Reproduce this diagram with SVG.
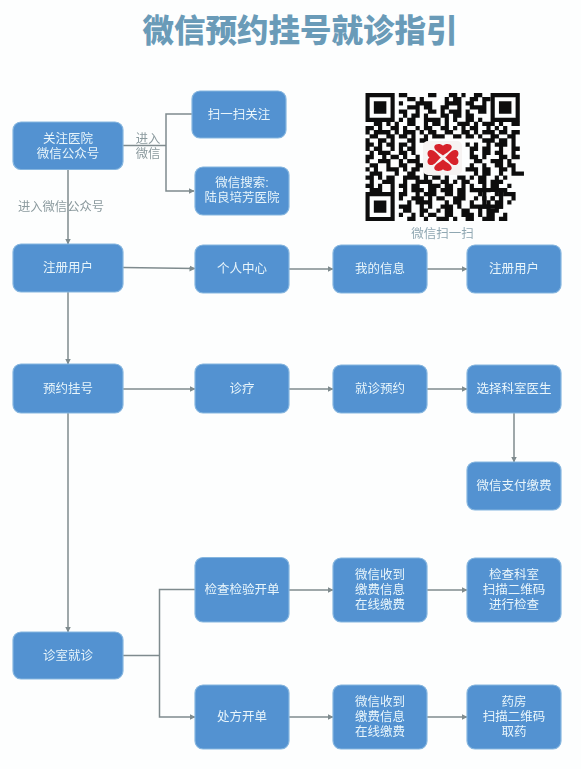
<svg xmlns="http://www.w3.org/2000/svg" width="581" height="769" viewBox="0 0 581 769">
<style>
text{font-family:"Liberation Sans","Noto Sans CJK SC",sans-serif}
.box{fill:#5392d1;stroke:#86b6df;stroke-width:1.2}
.t{fill:#e8f5fb;font-size:12.5px;text-anchor:middle}
.lab{fill:#8b9a9e;font-size:12.3px;text-anchor:middle}
.c{fill:none;stroke:#7f8b8e;stroke-width:1.5}
.a{marker-end:url(#arr)}
.q{fill:none;stroke:#111;stroke-width:1.04}
</style>
<defs>
<marker id="arr" markerUnits="userSpaceOnUse" markerWidth="7" markerHeight="7" refX="5.5" refY="3" orient="auto"><path d="M0 0L6 3L0 6z" fill="#7f8b8e"/></marker>
<filter id="soft" x="-5%" y="-5%" width="110%" height="110%"><feGaussianBlur stdDeviation="0.45"/></filter>
<path id="finder" fill="#111" fill-rule="evenodd" d="M0 0h7v7h-7zM1 1v5h5v-5zM2 2h3v3h-3z"/>
<path id="petal" fill="#d7232c" d="M0 -2C-3 -5 -9 -8 -8 -12C-7 -15 -2 -15 0 -12.500C2 -15 7 -15 8 -12C9 -8 3 -5 0 -2z"/>
</defs>
<rect width="581" height="769" fill="#fdfefe"/>
<text id="title" x="300" y="42" font-size="31.500" font-weight="900" fill="#6a9bb8" text-anchor="middle">微信预约挂号就诊指引</text>

<g id="qr" filter="url(#soft)">
<g transform="translate(365.500,93) scale(4.17,4.13)">
<use href="#finder"/><use href="#finder" x="30"/><use href="#finder" y="24"/>
<path class="q" d="M8 .5h2m5 0h2m3 0h2m1 0h1m2 0h2
M10 1.500h2m1 0h1m5 0h1m1 0h2m2 0h2m1 0h2
M8 2.500h1m3 0h4m3 0h4m1 0h2m2 0h1
M10 3.500h3m1 0h2m2 0h2m2 0h1m2 0h4
M8 4.500h2m2 0h1m2 0h2m1 0h1m1 0h3m1 0h1m2 0h2
M9 5.500h1m1 0h2m1 0h1m3 0h2m1 0h2m1 0h2
M8 6.500h1m1 0h2m2 0h4m1 0h1m1 0h1m2 0h2m1 0h1
M2 7.500h2m1 0h1m1 0h1m2 0h2m2 0h1m1 0h2m1 0h1m2 0h3m1 0h1m1 0h3m1 0h1m2 0h2
M0 8.500h2m1 0h1m2 0h2m1 0h1m2 0h1m1 0h2m2 0h2m1 0h1m1 0h1m1 0h2m2 0h1m1 0h1m1 0h1
M0 9.500h1m1 0h4m1 0h1m1 0h3m1 0h1m1 0h2m2 0h2m2 0h2m1 0h1m1 0h3m1 0h2m1 0h2
M1 10.500h2m2 0h2m1 0h2m1 0h1m2 0h1m1 0h3m2 0h2m1 0h2m1 0h1m2 0h2m2 0h2
M0 11.500h1m2 0h2m1 0h1m3 0h2m1 0h2m13 0h3m1 0h2m1 0h1
M0 12.500h2m1 0h1m1 0h2m1 0h2m1 0h1m12 0h1m1 0h1m2 0h1m1 0h3m1 0h1
M0 13.500h1m1 0h2m2 0h1m1 0h1m1 0h2m13 0h2m1 0h2m2 0h1m2 0h2
M1 14.500h1m1 0h3m2 0h2m1 0h1m13 0h1m2 0h2m1 0h2m2 0h1
M0 15.500h2m2 0h1m1 0h2m1 0h1m2 0h1m12 0h2m1 0h1m3 0h2m1 0h2
M0 16.500h1m2 0h3m2 0h1m1 0h3m13 0h2m2 0h3m1 0h1
M1 17.500h2m2 0h1m2 0h2m2 0h2m11 0h1m2 0h1m2 0h2m1 0h2
M0 18.500h1m1 0h1m2 0h3m1 0h1m1 0h2m11 0h3m1 0h2m2 0h2m1 0h1
M1 19.500h3m3 0h1m2 0h2m2 0h2m10 0h1m1 0h2m2 0h1m2 0h3
M0 20.500h2m1 0h1m1 0h2m2 0h4m1 0h1m1 0h2m1 0h1m2 0h2m1 0h1m1 0h2m2 0h1m1 0h1
M1 21.500h1m2 0h3m2 0h1m2 0h4m2 0h2m1 0h1m1 0h2m2 0h2m1 0h3
M0 22.500h2m1 0h1m2 0h1m1 0h2m1 0h2m2 0h3m1 0h2m2 0h1m1 0h1m2 0h1m1 0h2m2 0h1
M1 23.500h3m2 0h1m2 0h1m1 0h3m1 0h2m1 0h3m1 0h2m1 0h5m2 0h2
M8 24.500h2m2 0h1m1 0h3m2 0h2m1 0h2m3 0h1m3 0h1m1 0h3
M8 25.500h1m2 0h3m1 0h1m1 0h2m2 0h3m2 0h1m1 0h1m1 0h1m1 0h1m2 0h1
M10 26.500h1m1 0h4m3 0h1m1 0h2m2 0h1m3 0h1m1 0h2m1 0h1
M8 27.500h3m2 0h1m1 0h1m2 0h3m1 0h1m2 0h5m1 0h2
M9 28.500h2m2 0h2m2 0h1m1 0h2m2 0h2m2 0h1m1 0h3
M8 29.500h1m2 0h1m1 0h1m1 0h2m2 0h2m2 0h3m1 0h1m1 0h2m2 0h1
M10 30.500h2m2 0h1m2 0h3m1 0h1m2 0h2m2 0h3m1 0h2"/>
<path fill="#111" fill-rule="evenodd" d="M28 23h5v5h-5zM29 24v3h3v-3zM30 25h1v1h-1z"/>
</g>
<rect x="423" y="141" width="39" height="34" rx="5" fill="#f6f3f2"/>
<g transform="translate(443,157.500) scale(1.08,.94)">
<use href="#petal"/><use href="#petal" transform="rotate(90)"/><use href="#petal" transform="rotate(180)"/><use href="#petal" transform="rotate(270)"/>
</g>
</g>
<text id="qr-label" x="442.500" y="238" font-size="12.500" fill="#8fa7b2" text-anchor="middle">微信扫一扫</text>

<g id="connectors">
<path class="c" d="M123 145.500H166"/>
<path class="c a" d="M192 114H166V191H194"/>
<path class="c a" d="M68 169V244"/>
<path class="c a" d="M68 292V364"/>
<path class="c a" d="M68 413V632"/>
<path class="c a" d="M123 267.500L195 268.500"/>
<path class="c a" d="M289 269H333"/>
<path class="c a" d="M427 269H467"/>
<path class="c a" d="M123 389H195"/>
<path class="c a" d="M289 389H333"/>
<path class="c a" d="M427 389H467"/>
<path class="c a" d="M514 413V462"/>
<path class="c" d="M123 655.500H159.500"/>
<path class="c a" d="M195 589.500H159.500V717H195"/>
<path class="c a" d="M289 590H333"/>
<path class="c a" d="M427 590H467"/>
<path class="c a" d="M289 717H333"/>
<path class="c a" d="M427 717H467"/>
</g>
<text id="l1" class="lab" x="148" y="142.500"><tspan x="148">进入</tspan><tspan x="148" dy="15.500">微信</tspan></text>
<text id="l3" class="lab" x="61" y="211">进入微信公众号</text>

<g id="n1"><rect class="box" x="13" y="122" width="110" height="47.500" rx="8"/><text class="t" x="68" y="142.500"><tspan x="68">关注医院</tspan><tspan x="68" dy="15">微信公众号</tspan></text></g>
<g id="n2"><rect class="box" x="192" y="91" width="94" height="47" rx="8"/><text class="t" x="239" y="119">扫一扫关注</text></g>
<g id="n3"><rect class="box" x="195" y="167" width="94" height="48" rx="8"/><text class="t" x="242" y="187"><tspan x="242">微信搜索:</tspan><tspan x="242" dy="15">陆良培芳医院</tspan></text></g>
<g id="n4"><rect class="box" x="13" y="244" width="110" height="48" rx="8"/><text class="t" x="68" y="272">注册用户</text></g>
<g id="n5"><rect class="box" x="195" y="245" width="94" height="48" rx="8"/><text class="t" x="242" y="273">个人中心</text></g>
<g id="n6"><rect class="box" x="333" y="245" width="94" height="48" rx="8"/><text class="t" x="380" y="273">我的信息</text></g>
<g id="n7"><rect class="box" x="467" y="245" width="94" height="48" rx="8"/><text class="t" x="514" y="273">注册用户</text></g>
<g id="n8"><rect class="box" x="13" y="364" width="110" height="49" rx="8"/><text class="t" x="68" y="393">预约挂号</text></g>
<g id="n9"><rect class="box" x="195" y="364" width="94" height="49" rx="8"/><text class="t" x="242" y="393">诊疗</text></g>
<g id="n10"><rect class="box" x="333" y="365" width="94" height="48" rx="8"/><text class="t" x="380" y="393">就诊预约</text></g>
<g id="n11"><rect class="box" x="467" y="365" width="94" height="48" rx="8"/><text class="t" x="514" y="393">选择科室医生</text></g>
<g id="n12"><rect class="box" x="467" y="462" width="94" height="48" rx="8"/><text class="t" x="514" y="490">微信支付缴费</text></g>
<g id="n13"><rect class="box" x="13" y="632" width="110" height="47" rx="8"/><text class="t" x="68" y="660">诊室就诊</text></g>
<g id="n14"><rect class="box" x="195" y="557.500" width="94" height="64.500" rx="8"/><text class="t" x="242" y="594">检查检验开单</text></g>
<g id="n15"><rect class="box" x="333" y="558" width="94" height="64" rx="8"/><text class="t" x="380" y="579"><tspan x="380">微信收到</tspan><tspan x="380" dy="15">缴费信息</tspan><tspan x="380" dy="15">在线缴费</tspan></text></g>
<g id="n16"><rect class="box" x="467" y="558" width="94" height="64" rx="8"/><text class="t" x="514" y="579"><tspan x="514">检查科室</tspan><tspan x="514" dy="15">扫描二维码</tspan><tspan x="514" dy="15">进行检查</tspan></text></g>
<g id="n17"><rect class="box" x="195" y="685" width="94" height="64" rx="8"/><text class="t" x="242" y="721">处方开单</text></g>
<g id="n18"><rect class="box" x="333" y="685" width="94" height="64" rx="8"/><text class="t" x="380" y="706"><tspan x="380">微信收到</tspan><tspan x="380" dy="15">缴费信息</tspan><tspan x="380" dy="15">在线缴费</tspan></text></g>
<g id="n19"><rect class="box" x="467" y="685" width="94" height="64" rx="8"/><text class="t" x="514" y="706"><tspan x="514">药房</tspan><tspan x="514" dy="15">扫描二维码</tspan><tspan x="514" dy="15">取药</tspan></text></g>
</svg>
